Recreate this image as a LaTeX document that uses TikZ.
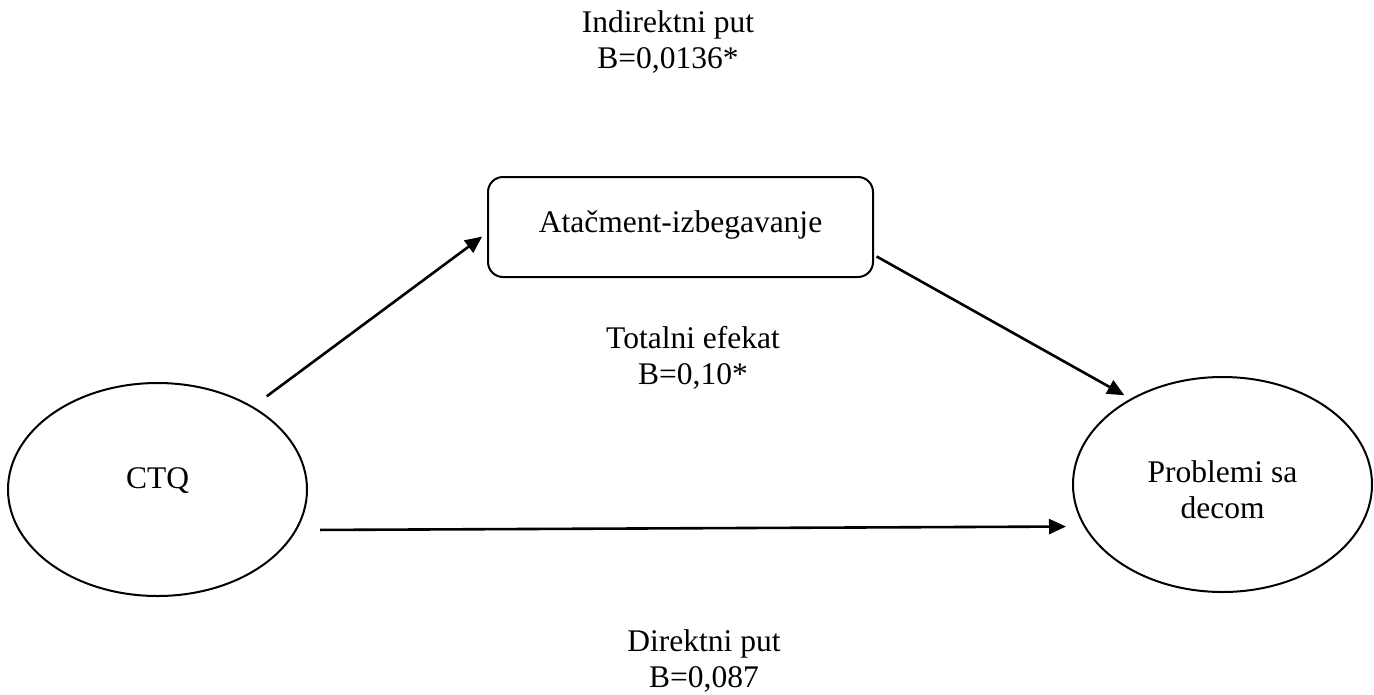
\documentclass[tikz,border=0pt]{standalone}
\usepackage{fontspec}
\setmainfont{Liberation Serif}
\usetikzlibrary{arrows.meta,shapes.geometric}
\begin{document}
\begin{tikzpicture}[x=1pt,y=-1pt,
  every node/.style={font=\fontsize{31.5pt}{35.5pt}\selectfont, inner sep=0pt},
  oval/.style={ellipse, draw, line width=2pt, minimum width=299pt, minimum height=213pt},
  box/.style={rectangle, rounded corners=15pt, draw, line width=2pt, minimum width=385pt, minimum height=100pt},
  lbl/.style={align=center, anchor=base},
  arr/.style={line width=2.6pt, -{Triangle[length=17pt,width=15pt]}}
]
\useasboundingbox (0,0) rectangle (1374,694);
\node[oval, text height=20pt, text depth=23pt] (ctq) at (157.5,489.5) {CTQ};
\node[oval, minimum height=215pt, align=center, text height=72pt, text depth=5pt] (prob) at (1222.5,484.5) {Problemi sa\\decom};
\node[box, text height=25pt, text depth=15pt] (att) at (680.5,227) {Atačment-izbegavanje};
\node[lbl] (ind) at (668,68) {Indirektni put\\B=0,0136*};
\node[lbl] (tot) at (693,384) {Totalni efekat\\B=0,10*};
\node[lbl] (dir) at (704,687) {Direktni put\\B=0,087};
\draw[arr, shorten <=17pt, shorten >=6pt] (ctq.41) -- ([yshift=-6pt]att.west);
\draw[arr, shorten <=3pt, shorten >=7pt] ([yshift=-28pt]att.east) -- (prob.137.4);
\draw[arr, shorten <=12pt, shorten >=6pt] ([yshift=-40.5pt]ctq.east) -- ([yshift=-42pt]prob.west);
\end{tikzpicture}
\end{document}
